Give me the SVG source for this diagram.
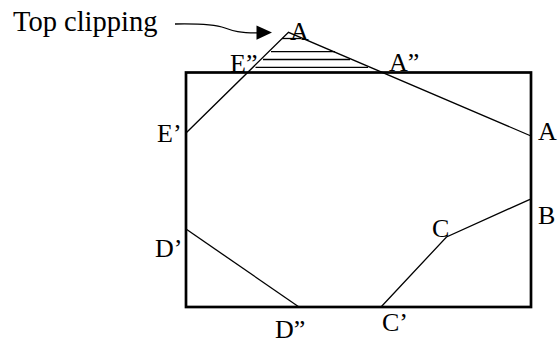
<svg xmlns="http://www.w3.org/2000/svg" width="558" height="344" viewBox="0 0 558 344">
<style>
.lbl{font-family:"Liberation Serif","Times New Roman",serif;font-size:26px;fill:#000}
.ttl{font-family:"Liberation Serif","Times New Roman",serif;font-size:28.5px;fill:#000}
.thin{stroke:#000;stroke-width:1.3;fill:none}
.frame{stroke:#000;stroke-width:2.7;fill:none}
</style>
<rect width="558" height="344" fill="#fff"/>
<g id="window">
<rect class="frame" x="186" y="72.5" width="345" height="234.5"/>
</g>
<g id="connectors">
<polyline class="thin" points="186,133 288.5,32.3 531,136"/>
<line class="thin" x1="282" y1="38.5" x2="301" y2="38.5"/>
<line class="thin" x1="271" y1="51.7" x2="335" y2="51.7"/>
<line class="thin" x1="263" y1="59.5" x2="350" y2="59.5"/>
<line class="thin" x1="255.5" y1="67.3" x2="368" y2="67.3"/>
<polyline class="thin" points="381,307 446.5,237 530,199.3"/>
<line class="thin" x1="186" y1="229" x2="299" y2="307"/>
<path class="thin" d="M175,24 C200,23.5 215,24.5 225,28 C233,31 240,33 258,32.8"/>
<polygon points="256.5,25.5 272,32.5 256.5,39.8" fill="#000"/>
</g>
<g id="title"><text class="ttl" x="13" y="31">Top clipping</text></g>
<g id="A-top"><text class="lbl" x="290" y="39.5">A</text></g>
<g id="E2"><text class="lbl" x="230" y="71.5">E”</text></g>
<g id="A2"><text class="lbl" x="389" y="70.5">A”</text></g>
<g id="E1"><text class="lbl" x="157" y="142">E’</text></g>
<g id="A-right"><text class="lbl" x="538" y="140">A</text></g>
<g id="B"><text class="lbl" x="538" y="223.5">B</text></g>
<g id="C"><text class="lbl" x="432" y="237">C</text></g>
<g id="D1"><text class="lbl" x="155" y="257">D’</text></g>
<g id="D2"><text class="lbl" x="275" y="337.5">D”</text></g>
<g id="C1"><text class="lbl" x="382" y="331">C’</text></g>
</svg>
